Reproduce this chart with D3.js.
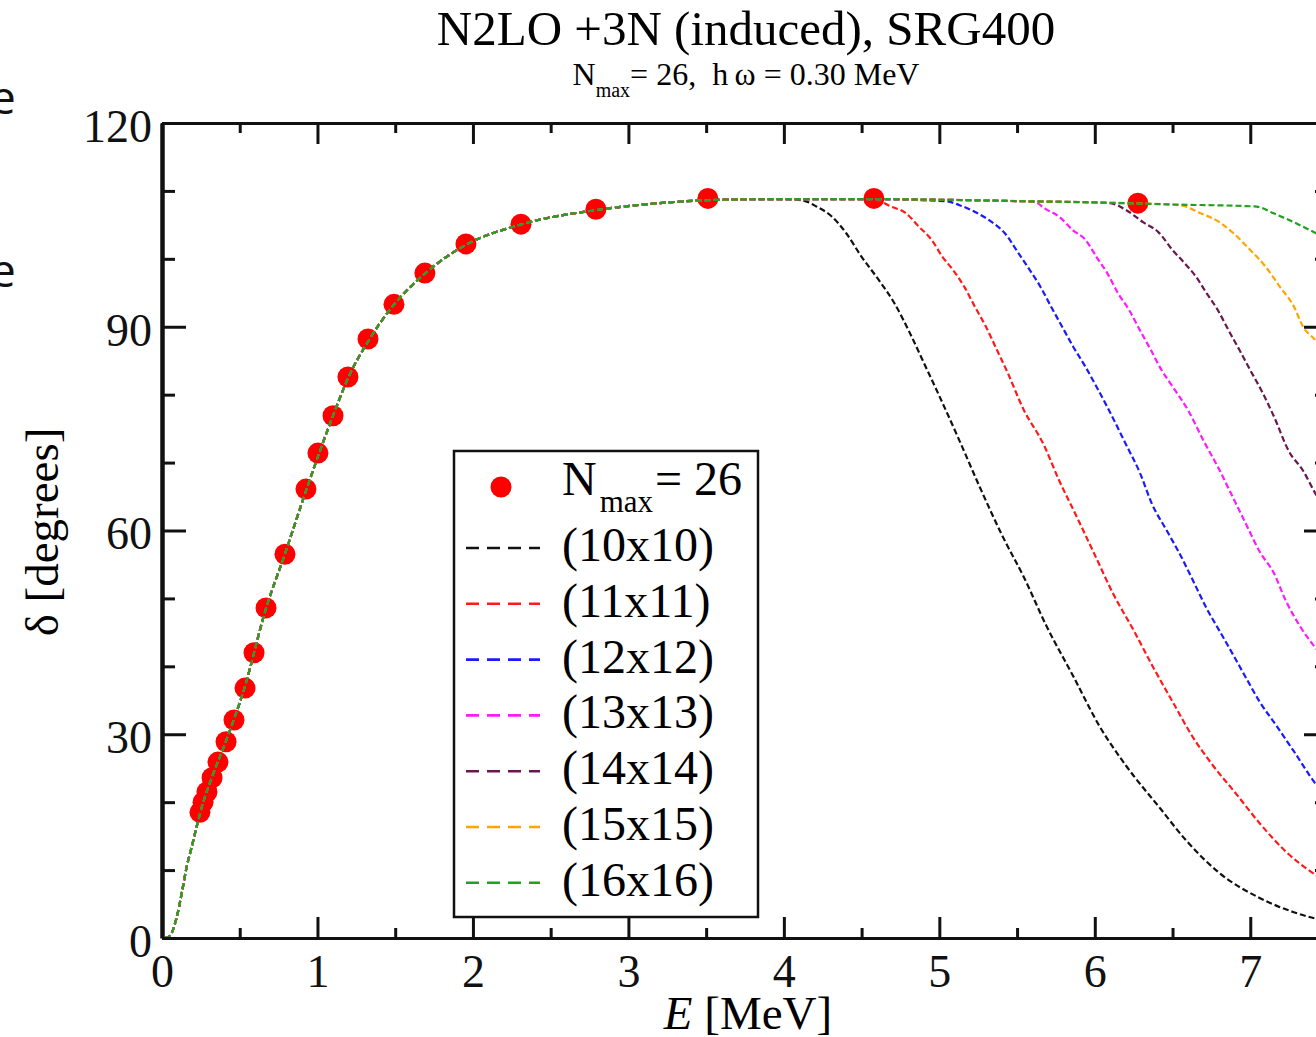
<!DOCTYPE html>
<html>
<head>
<meta charset="utf-8">
<script src="https://cdn.jsdelivr.net/npm/d3@7"></script>
<style>
  body { margin: 0; background: #fff; overflow: hidden; }
  svg { display: block; }
  .axis text { font-family: "Liberation Serif", "Times New Roman", serif; font-size: 46px; fill: #111; }
  .axis line, .axis path { stroke: #111; }
</style>
</head>
<body>
<div id="vis"></div>
<script>
// tick values
var xTicks = [0, 1, 2, 3, 4, 5, 6, 7];
var xMinor = [0.5, 1.5, 2.5, 3.5, 4.5, 5.5, 6.5];
var yTicks = [0, 30, 60, 90, 120];
var yMinor = [10, 20, 40, 50, 70, 80, 100, 110];

// Nmax = 26 points (E in MeV, delta in degrees)
var dotE = [0.244, 0.264, 0.289, 0.322, 0.360, 0.412, 0.463, 0.534, 0.592, 0.669, 0.791, 0.926,
  1.003, 1.100, 1.196, 1.325, 1.492, 1.691, 1.955, 2.309, 2.791, 3.511, 4.579, 6.277];
var dotDelta = [18.5, 20.0, 21.5, 23.6, 25.9, 28.9, 32.1, 36.8, 42.0, 48.6, 56.5, 66.1,
  71.4, 76.9, 82.6, 88.2, 93.3, 97.9, 102.2, 105.1, 107.3, 108.9, 108.9, 108.2];

// rising part, shared by all the (NxN) curves
var riseE = [0.02, 0.05, 0.095, 0.127, 0.159, 0.191, 0.223, 0.26, 0.32, 0.41, 0.53, 0.67, 0.79,
  0.93, 1.1, 1.2, 1.33, 1.49, 1.69, 1.95, 2.3, 2.8, 3.2, 3.6, 4.0];
var riseDelta = [0, 0.3, 3.1, 6.6, 10.5, 13.4, 16.4, 19.6, 23.6, 28.9, 36.8, 48.6, 56.5,
  66.1, 76.9, 82.6, 88.0, 93.2, 97.8, 102.0, 105.0, 107.2, 108.2, 108.7, 108.8];

// plateau before each curve drops
var plateauE = [4.5, 5.0, 5.5, 6.0, 6.5, 7.0, 7.5];
var plateauDelta = [108.8, 108.7, 108.5, 108.3, 108.0, 107.7, 107.3];

// falling tails [E, delta]
var tail10 = [[4.12, 108.6], [4.21, 107.7], [4.31, 106.2], [4.40, 103.8], [4.50, 100.3], [4.61, 96.9],
  [4.71, 93.5], [4.81, 89.1], [4.90, 84.7], [4.99, 80.3], [5.13, 73.2], [5.26, 66.4], [5.41, 59.0],
  [5.54, 53.3], [5.69, 45.9], [5.86, 38.6], [6.03, 31.2], [6.20, 25.4], [6.42, 19.1], [6.59, 14.3],
  [6.80, 9.6], [7.06, 5.9], [7.28, 3.8], [7.50, 2.4]];
var tail11 = [[4.60, 108.6], [4.69, 107.7], [4.78, 106.8], [4.87, 104.7], [4.95, 102.8], [5.02, 100.3],
  [5.09, 98.3], [5.16, 95.9], [5.23, 92.9], [5.30, 90.0], [5.37, 86.6], [5.44, 83.2], [5.54, 77.9],
  [5.67, 72.7], [5.77, 67.4], [5.88, 62.2], [5.99, 56.9], [6.12, 50.6], [6.25, 45.3], [6.37, 40.1],
  [6.50, 34.8], [6.63, 29.6], [6.76, 25.4], [6.91, 21.2], [7.06, 16.9], [7.23, 12.7], [7.42, 9.3], [7.50, 8.2]];
var tail12 = [[5.04, 108.5], [5.13, 107.9], [5.23, 106.9], [5.32, 105.7], [5.42, 103.8], [5.51, 100.8],
  [5.58, 98.4], [5.65, 95.9], [5.72, 92.9], [5.79, 90.0], [5.86, 87.1], [5.94, 84.1], [6.01, 81.2],
  [6.08, 78.2], [6.20, 72.7], [6.29, 68.5], [6.37, 63.8], [6.46, 60.1], [6.55, 56.4], [6.63, 52.7],
  [6.72, 48.5], [6.80, 45.3], [6.89, 41.7], [6.98, 38.0], [7.06, 34.8], [7.17, 31.2], [7.28, 27.5],
  [7.42, 22.7], [7.50, 20.5]];
var tail13 = [[5.61, 108.4], [5.68, 107.4], [5.77, 106.2], [5.86, 104.2], [5.94, 102.8], [6.01, 100.3],
  [6.08, 97.9], [6.15, 94.9], [6.22, 92.5], [6.29, 89.5], [6.36, 86.6], [6.43, 83.6], [6.50, 81.2],
  [6.60, 77.7], [6.70, 73.2], [6.80, 69.0], [6.89, 64.8], [6.98, 60.6], [7.06, 56.9], [7.15, 53.8],
  [7.23, 49.6], [7.32, 45.9], [7.42, 42.7], [7.50, 40.5]];
var tail14 = [[6.10, 108.2], [6.20, 107.2], [6.31, 105.4], [6.41, 103.9], [6.50, 101.3], [6.58, 99.3],
  [6.65, 97.4], [6.72, 94.9], [6.79, 92.5], [6.86, 89.5], [6.93, 86.6], [7.00, 83.6], [7.07, 80.7],
  [7.15, 76.9], [7.25, 71.6], [7.34, 68.8], [7.42, 65.4], [7.50, 62.5]];
var tail15 = [[6.55, 107.9], [6.68, 106.7], [6.78, 105.7], [6.89, 103.8], [7.00, 101.3], [7.10, 98.8],
  [7.19, 95.9], [7.28, 93.0], [7.34, 90.0], [7.42, 88.0], [7.50, 85.5]];
var tail16 = [[7.04, 107.7], [7.15, 106.7], [7.25, 105.7], [7.36, 104.5], [7.42, 103.8], [7.50, 102.8]];

var tails = [tail10, tail11, tail12, tail13, tail14, tail15, tail16];
var seriesLabels = ['(10x10)', '(11x11)', '(12x12)', '(13x13)', '(14x14)', '(15x15)', '(16x16)'];
var seriesColors = ['#111111', '#ff1a1a', '#1a1aff', '#ff1aff', '#6a164f', '#ffa500', '#22a022'];

var width = 1316,
  height = 1037;
var margin = { top: 123, left: 162, bottom: 99, right: -12 };

var svg = d3.select('#vis').append('svg')
  .attr('width', width)
  .attr('height', height);

var x = d3.scaleLinear().domain([0, 7.5]).range([margin.left, width - margin.right]);
var y = d3.scaleLinear().domain([0, 120]).range([height - margin.bottom, margin.top]);

var serif = '"Liberation Serif", "Times New Roman", serif';

// stray letters of the slide behind the chart
svg.append('text').attr('x', -10).attr('y', 114).text('e')
  .style('font-family', '"Open Sans", sans-serif').style('font-size', '46px').attr('fill', '#111');
svg.append('text').attr('x', -10).attr('y', 287).text('e')
  .style('font-family', '"Open Sans", sans-serif').style('font-size', '46px').attr('fill', '#111');

// titles
svg.append('text')
  .attr('x', 746).attr('y', 45)
  .attr('text-anchor', 'middle')
  .style('font-family', serif).style('font-size', '49px')
  .text('N2LO +3N (induced), SRG400');

var sub = svg.append('text')
  .attr('x', 746).attr('y', 85)
  .attr('text-anchor', 'middle')
  .style('white-space', 'pre')
  .style('font-family', serif).style('font-size', '32px');
sub.append('tspan').text('N');
sub.append('tspan').attr('dy', 12).style('font-size', '20px').text('max');
sub.append('tspan').attr('dy', -12).text('= 26,  h\u2009\u03c9 = 0.30 MeV');

// clip for the curves
svg.append('clipPath').attr('id', 'plotclip')
  .append('rect')
  .attr('x', x(0)).attr('y', y(120))
  .attr('width', x(7.5) - x(0)).attr('height', y(0) - y(120));

var plot = svg.append('g').attr('clip-path', 'url(#plotclip)');

// Nmax = 26 dots go under the lines
var dots = dotE.map(function(e, i) { return { e: e, d: dotDelta[i] }; });
plot.selectAll('.dot').data(dots).enter().append('circle')
  .attr('class', 'dot')
  .attr('cx', function(d) { return x(d.e); })
  .attr('cy', function(d) { return y(d.d); })
  .attr('r', 10.5)
  .attr('fill', '#ff0000');

var line = d3.line()
  .x(function(d) { return x(d[0]); })
  .y(function(d) { return y(d[1]); })
  .curve(d3.curveMonotoneX);

var rise = riseE.map(function(e, i) { return [e, riseDelta[i]]; });
var plateau = plateauE.map(function(e, i) { return [e, plateauDelta[i]]; });

tails.forEach(function(tail, i) {
  var start = tail[0][0];
  var pts = rise.concat(plateau.filter(function(p) { return p[0] < start - 0.05; }), tail);
  plot.append('path')
    .datum(pts)
    .attr('d', line)
    .attr('fill', 'none')
    .attr('stroke', seriesColors[i])
    .attr('stroke-width', 2.2)
    .attr('stroke-dasharray', '6,3');
});

// axes
function styleAxis(g, w) {
  g.selectAll('line').attr('stroke-width', w);
  g.select('.domain').attr('stroke-width', 3);
}

var gx = svg.append('g').attr('class', 'axis')
  .attr('transform', 'translate(0,' + y(0) + ')')
  .call(d3.axisBottom(x).tickValues(xTicks).tickSize(-21).tickSizeOuter(0).tickPadding(16));
styleAxis(gx, 3);
svg.append('g').attr('class', 'axis')
  .attr('transform', 'translate(0,' + y(0) + ')')
  .call(d3.axisBottom(x).tickValues(xMinor).tickSize(-10).tickSizeOuter(0).tickFormat(''))
  .call(function(g) { g.select('.domain').remove(); g.selectAll('line').attr('stroke-width', 3); });

var gt = svg.append('g').attr('class', 'axis')
  .attr('transform', 'translate(0,' + y(120) + ')')
  .call(d3.axisTop(x).tickValues(xTicks).tickSize(-21).tickSizeOuter(0).tickFormat(''));
styleAxis(gt, 3);
svg.append('g').attr('class', 'axis')
  .attr('transform', 'translate(0,' + y(120) + ')')
  .call(d3.axisTop(x).tickValues(xMinor).tickSize(-10).tickSizeOuter(0).tickFormat(''))
  .call(function(g) { g.select('.domain').remove(); g.selectAll('line').attr('stroke-width', 3); });

var gy = svg.append('g').attr('class', 'axis')
  .attr('transform', 'translate(' + x(0) + ',0)')
  .call(d3.axisLeft(y).tickValues(yTicks).tickSize(-24).tickSizeOuter(0).tickPadding(10));
styleAxis(gy, 3);
gy.select('.domain').attr('stroke-width', 4.5);
gy.selectAll('text').attr('dy', '0.4em');
svg.append('g').attr('class', 'axis')
  .attr('transform', 'translate(' + x(0) + ',0)')
  .call(d3.axisLeft(y).tickValues(yMinor).tickSize(-13).tickSizeOuter(0).tickFormat(''))
  .call(function(g) { g.select('.domain').remove(); g.selectAll('line').attr('stroke-width', 3); });

var gr = svg.append('g').attr('class', 'axis')
  .attr('transform', 'translate(' + x(7.5) + ',0)')
  .call(d3.axisRight(y).tickValues(yTicks).tickSize(-24).tickSizeOuter(0).tickFormat(''));
styleAxis(gr, 3);
svg.append('g').attr('class', 'axis')
  .attr('transform', 'translate(' + x(7.5) + ',0)')
  .call(d3.axisRight(y).tickValues(yMinor).tickSize(-13).tickSizeOuter(0).tickFormat(''))
  .call(function(g) { g.select('.domain').remove(); g.selectAll('line').attr('stroke-width', 3); });

// axis titles
var xl = svg.append('text')
  .attr('x', 748).attr('y', 1029)
  .attr('text-anchor', 'middle')
  .style('font-family', serif).style('font-size', '47px');
xl.append('tspan').style('font-style', 'italic').text('E');
xl.append('tspan').text(' [MeV]');

svg.append('text')
  .attr('transform', 'translate(58,532) rotate(-90)')
  .attr('text-anchor', 'middle')
  .style('font-family', serif).style('font-size', '47px')
  .text('\u03b4 [degrees]');

// legend
var legend = svg.append('g');
legend.append('rect')
  .attr('x', 454).attr('y', 451)
  .attr('width', 304).attr('height', 466)
  .attr('fill', '#fff')
  .attr('stroke', '#111')
  .attr('stroke-width', 2.5);

legend.append('circle')
  .attr('cx', 501).attr('cy', 487).attr('r', 10.5).attr('fill', '#ff0000');
var lt = legend.append('text')
  .attr('x', 562).attr('y', 495)
  .style('font-family', serif).style('font-size', '48px');
lt.append('tspan').text('N');
lt.append('tspan').attr('dx', 3).attr('dy', 17).style('font-size', '31px').text('max');
lt.append('tspan').attr('dx', 2).attr('dy', -17).text('= 26');

var rows = legend.selectAll('.row').data(seriesLabels).enter().append('g')
  .attr('class', 'row')
  .attr('transform', function(d, i) { return 'translate(0,' + (548 + i * 55.8) + ')'; });
rows.append('line')
  .attr('x1', 466).attr('x2', 540)
  .attr('y1', 0).attr('y2', 0)
  .attr('stroke', function(d, i) { return seriesColors[i]; })
  .attr('stroke-width', 2.6)
  .attr('stroke-dasharray', '13,8');
rows.append('text')
  .attr('x', 562).attr('y', 13)
  .style('font-family', serif).style('font-size', '48px')
  .text(function(d) { return d; });
</script>
</body>
</html>
